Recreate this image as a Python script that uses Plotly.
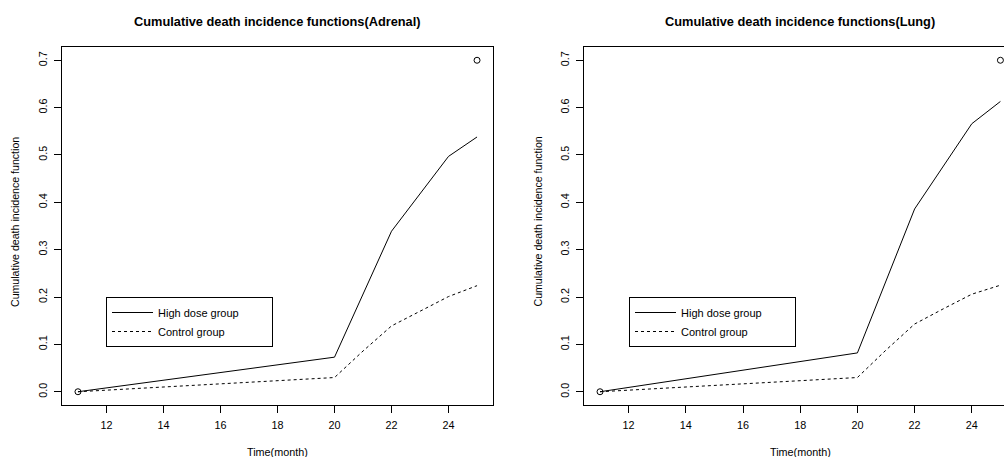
import plotly.graph_objects as go

# ---- data ----
time_high = [11, 20, 22, 24, 25]
adrenal_high = [0.0, 0.073, 0.339, 0.497, 0.538]
lung_high = [0.0, 0.082, 0.386, 0.566, 0.613]

time_ctrl = [11, 20, 21, 22, 23, 24, 25]
adrenal_ctrl = [0.0, 0.030, 0.086, 0.139, 0.170, 0.201, 0.224]
lung_ctrl = [0.0, 0.030, 0.088, 0.143, 0.175, 0.206, 0.225]

range_pts_x = [11, 25]
range_pts_y = [0.0, 0.7]

x_ticks = [12, 14, 16, 18, 20, 22, 24]
y_ticks = [0.0, 0.1, 0.2, 0.3, 0.4, 0.5, 0.6, 0.7]

titles = ["Cumulative death incidence functions(Adrenal)",
          "Cumulative death incidence functions(Lung)"]
x_title = "Time(month)"
y_title = "Cumulative death incidence function"
series_names = ["High dose group", "Control group"]

FONT = "Liberation Sans, Arial, Helvetica, sans-serif"
W, H = 1004, 457
PAD = "\u00a0" * 9  # widen legend box like R's legend()

fig = go.Figure()

panels = [
    ("x", "y", adrenal_high, adrenal_ctrl, "legend"),
    ("x2", "y2", lung_high, lung_ctrl, "legend2"),
]
for xa, ya, hi, ct, lg in panels:
    fig.add_trace(go.Scatter(x=time_high, y=hi, mode="lines", name=series_names[0] + PAD,
                             line=dict(color="black", width=1), xaxis=xa, yaxis=ya,
                             legend=lg))
    fig.add_trace(go.Scatter(x=time_ctrl, y=ct, mode="lines", name=series_names[1],
                             line=dict(color="black", width=1, dash="3px,3px"),
                             xaxis=xa, yaxis=ya, legend=lg))
    fig.add_trace(go.Scatter(x=range_pts_x, y=range_pts_y, mode="markers",
                             marker=dict(symbol="circle-open", size=6,
                                         line=dict(color="black", width=1), color="black"),
                             showlegend=False, xaxis=xa, yaxis=ya))

ydom = [1 - 405 / H, 1 - 47 / H]
common_x = dict(tickmode="array", tickvals=x_ticks, ticks="outside", ticklen=7,
                tickwidth=1, tickcolor="black", showgrid=False, zeroline=False,
                showline=True, linecolor="black", linewidth=1,
                tickfont=dict(family=FONT, size=10.8, color="black"),
                ticklabelstandoff=3)
common_y = dict(tickmode="array", tickvals=y_ticks, tickformat=".1f", ticks="outside",
                ticklen=7, tickwidth=1, tickcolor="black", showgrid=False, zeroline=False,
                showline=True, linecolor="black", linewidth=1, tickangle=-90,
                tickfont=dict(family=FONT, size=10.8, color="black"),
                range=[-0.028, 0.728], domain=ydom, ticklabelstandoff=3)

leg = dict(xanchor="left", yanchor="top", bordercolor="black", borderwidth=1,
           bgcolor="white", font=dict(family=FONT, size=11, color="black"),
           itemwidth=41)

fig.update_layout(
    width=W, height=H,
    margin=dict(l=0, r=0, t=0, b=0),
    paper_bgcolor="white", plot_bgcolor="white",
    font=dict(family=FONT, color="black"),
    xaxis=dict(common_x, domain=[62 / W, 493 / W], range=[10.44, 25.56], mirror=True, anchor="y"),
    yaxis=dict(common_y, mirror=True, anchor="x"),
    xaxis2=dict(common_x, domain=[584 / W, 1.0], range=[10.44, 10.44 + 420 / 28.6],
                mirror=True, anchor="y2"),
    yaxis2=dict(common_y, mirror=False, anchor="x2"),
    legend=dict(leg, x=106 / W, y=1 - 297 / H),
    legend2=dict(leg, x=629 / W, y=1 - 297 / H),
)

ann = []
for cx, t in [(277.5, titles[0]), (800, titles[1])]:
    ann.append(dict(text="<b>%s</b>" % t, x=cx / W, y=1 - 21.7 / H, xref="paper", yref="paper",
                    showarrow=False, xanchor="center", yanchor="middle",
                    font=dict(family=FONT, size=12.8, color="black")))
    ann.append(dict(text=x_title, x=cx / W, y=1 - 452 / H, xref="paper", yref="paper",
                    showarrow=False, xanchor="center", yanchor="middle",
                    font=dict(family=FONT, size=10.8, color="black")))
for cx in [15, 537.5]:
    ann.append(dict(text=y_title, x=cx / W, y=1 - 222 / H, xref="paper", yref="paper",
                    showarrow=False, xanchor="center", yanchor="middle", textangle=-90,
                    font=dict(family=FONT, size=10.6, color="black")))
fig.update_layout(annotations=ann)

fig.write_html("out.html", post_script="document.body.style.margin='0px';",
               config={"displayModeBar": False})
